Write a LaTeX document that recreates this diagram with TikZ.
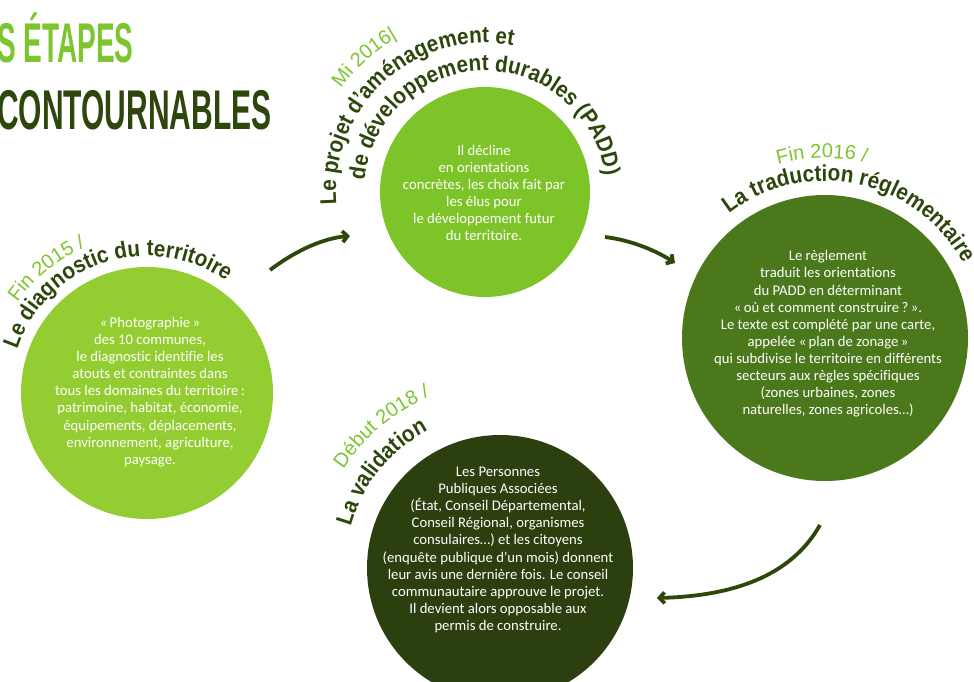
\documentclass[tikz,border=0pt]{standalone}
\usepackage{fontspec}
\setmainfont{Carlito}[Ligatures=NoCommon]
\newfontfamily\headfont{Liberation Sans}
\newfontfamily\arcfont[FakeStretch=0.9]{Liberation Sans}
\usetikzlibrary{decorations.text, arrows.meta, calc}
\definecolor{cA}{RGB}{148,205,50}
\definecolor{cB}{RGB}{125,196,40}
\definecolor{cC}{RGB}{74,120,27}
\definecolor{cD}{RGB}{43,63,15}
\definecolor{darkt}{RGB}{45,70,12}
\definecolor{lightt}{RGB}{125,197,46}
\definecolor{arrowc}{RGB}{45,72,10}
\newcommand\arctext[6]{%
  \path[decorate, decoration={text along path, text align=center, text={|#5|#6}}]
    ($(#1)+(#3+#4:#2)$) arc[start angle=#3+#4, end angle=#3-#4, radius=#2];}
\newcommand\titlefmt{\arcfont\bfseries\fontsize{23}{23}\selectfont\color{darkt}}
\newcommand\datefmt{\headfont\fontsize{20}{20}\selectfont\color{lightt}}
\begin{document}
\begin{tikzpicture}[x=1pt,y=1pt,
  disc/.style={circle, inner sep=0pt, minimum size=#1},
  body/.style={align=center, text=white, font=\fontsize{14.7}{17.1}\selectfont},
  flow/.style={draw=arrowc, line width=3.8pt, -{Straight Barb[length=5pt,width=11pt]}},
  bigtitle/.style={anchor=base west, inner sep=0pt, font=\headfont\bfseries\fontsize{56}{56}\selectfont},
]
\path[use as bounding box] (0,0) rectangle (974,-682);

% title
\node[bigtitle, text=lightt] (t1) at (-3,-63) {\scalebox{0.50}[1]{S ÉTAPES}};
\node[bigtitle, text=darkt] (t2) at (-3,-129) {\scalebox{0.535}[1]{CONTOURNABLES}};

% circles
\node[disc=252pt, fill=cA] (c1) at (147,-393) {};
\node[disc=210pt, fill=cB] (c2) at (485,-192) {};
\node[disc=286pt, fill=cC] (c3) at (825,-338) {};
\node[disc=266pt, fill=cD] (c4) at (500,-568) {};

% body texts
\node[body] (b1) at (150,-392) {«\,Photographie\,»\\des 10 communes,\\le diagnostic identifie les\\atouts et contraintes dans\\tous les domaines du territoire\,:\\patrimoine, habitat, économie,\\équipements, déplacements,\\environnement, agriculture,\\paysage.};
\node[body] (b2) at (484,-193) {Il décline\\en orientations\\concrètes, les choix fait par\\les élus pour\\le développement futur\\du territoire.};
\node[body] (b3) at (828,-334) {Le règlement\\traduit les orientations\\du PADD en déterminant\\«\,où et comment construire\,?\,».\\Le texte est complété par une carte,\\appelée «\,plan de zonage\,»\\qui subdivise le territoire en différents\\secteurs aux règles spécifiques\\(zones urbaines, zones\\naturelles, zones agricoles…)};
\node[body] (b4) at (498,-550) {Les Personnes\\Publiques Associées\\(État, Conseil Départemental,\\Conseil Régional, organismes\\consulaires…) et les citoyens\\(enquête publique d’un mois) donnent\\leur avis une dernière fois. Le conseil\\communautaire approuve le projet.\\Il devient alors opposable aux\\permis de construire.};

% curved titles
\arctext{c1}{158}{129}{100}{\datefmt}{Fin 2015 /}
\arctext{c1}{137}{108}{100}{\titlefmt}{Le diagnostic du territoire}
\arctext{c2}{177}{132}{100}{\datefmt}{Mi 2016{\textbar}}
\arctext{c2}{149}{132}{100}{\titlefmt}{Le projet d’aménagement et}
\arctext{c2}{121}{91}{100}{\titlefmt}{de développement durables (PADD)}
\arctext{c3}{180}{91}{100}{\datefmt}{Fin 2016 /}
\arctext{c3}{157}{78}{100}{\titlefmt}{La traduction réglementaire}
\arctext{c4}{185}{130}{100}{\datefmt}{Début 2018 /}
\arctext{c4}{155}{141}{100}{\titlefmt}{La validation}

% arrows
\coordinate (a1s) at (270,-270);
\coordinate (a1e) at (350,-236);
\coordinate (a2s) at (605,-237);
\coordinate (a2e) at (675,-263);
\coordinate (a3s) at (820,-525);
\coordinate (a3e) at (657,-598);
\draw[flow] (a1s) .. controls (298,-249) and (325,-238) .. (a1e);
\draw[flow] (a2s) .. controls (630,-240) and (655,-250) .. (a2e);
\draw[flow] (a3s) .. controls (790,-578) and (730,-596) .. (a3e);
\end{tikzpicture}
\end{document}
